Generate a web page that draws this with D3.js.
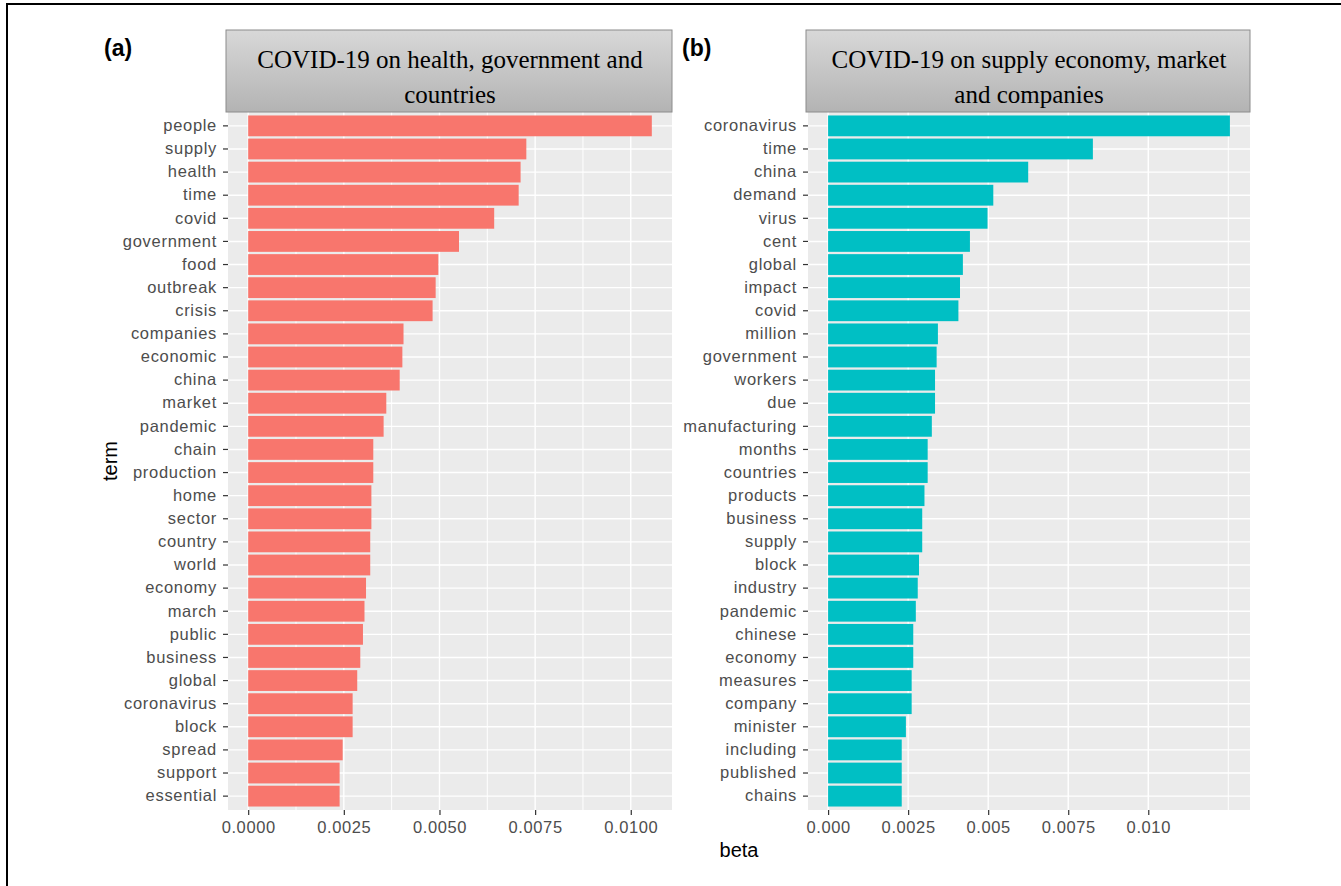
<!DOCTYPE html>
<html>
<head>
<meta charset="utf-8">
<script src="https://cdn.jsdelivr.net/npm/d3@7"></script>
<style>
    body { margin: 0; background: #fff; }
    svg text { font-family: "Liberation Sans", Arial, sans-serif; }
</style>
</head>
<body>
<div id="chart"></div>
<script>
// topic (a) terms and beta values, top to bottom
const termsA = ["people", "supply", "health", "time", "covid", "government", "food", "outbreak", "crisis",
    "companies", "economic", "china", "market", "pandemic", "chain", "production", "home", "sector",
    "country", "world", "economy", "march", "public", "business", "global", "coronavirus", "block",
    "spread", "support", "essential"];
const betaA = [0.01055, 0.00727, 0.00712, 0.00707, 0.00643, 0.00551, 0.00497, 0.00490, 0.00482,
    0.00406, 0.00403, 0.00396, 0.00361, 0.00354, 0.00327, 0.00327, 0.00322, 0.00322,
    0.00319, 0.00319, 0.00308, 0.00304, 0.00300, 0.00293, 0.00285, 0.00273, 0.00273,
    0.00247, 0.00239, 0.00239];

// topic (b)
const termsB = ["coronavirus", "time", "china", "demand", "virus", "cent", "global", "impact", "covid",
    "million", "government", "workers", "due", "manufacturing", "months", "countries", "products",
    "business", "supply", "block", "industry", "pandemic", "chinese", "economy", "measures",
    "company", "minister", "including", "published", "chains"];
const betaB = [0.01255, 0.00827, 0.00625, 0.00516, 0.00498, 0.00443, 0.00421, 0.00412, 0.00407,
    0.00343, 0.00339, 0.00334, 0.00334, 0.00324, 0.00311, 0.00311, 0.00301,
    0.00294, 0.00294, 0.00284, 0.00280, 0.00274, 0.00266, 0.00266, 0.00261,
    0.00261, 0.00243, 0.00230, 0.00230, 0.00230];

const ticksA = [0, 0.0025, 0.005, 0.0075, 0.01];
const tickLabelsA = ["0.0000", "0.0025", "0.0050", "0.0075", "0.0100"];
const minorA = [0.00125, 0.00375, 0.00625, 0.00875];

const ticksB = [0, 0.0025, 0.005, 0.0075, 0.01];
const tickLabelsB = ["0.000", "0.0025", "0.005", "0.0075", "0.010"];
const minorB = [0.0125];

const titleA = ["COVID-19 on health, government and", "countries"];
const titleB = ["COVID-19 on supply economy, market", "and companies"];

const width = 1341, height = 886;
const panelTop = 112, panelBottom = 810;

const svg = d3.select("#chart")
    .append("svg")
    .attr("width", width)
    .attr("height", height);

svg.append("rect").attr("width", width).attr("height", height).attr("fill", "#fff");
svg.append("defs");

// frame of the cropped figure (left and top edge only)
svg.append("path")
    .attr("d", `M7,${height + 2} L7,4 L${width + 2},4`)
    .attr("fill", "none")
    .attr("stroke", "#000")
    .attr("stroke-width", 2);

function drawPanel(opts) {
    const { left, right, terms, values, ticks, tickLabels, minor, color, title, tag, tagX, id } = opts;

    const maxVal = d3.max(values);
    const x = d3.scaleLinear()
        .domain([-0.05 * maxVal, 1.05 * maxVal])
        .range([left, right]);

    const y = d3.scaleBand()
        .domain(terms)
        .range([panelTop, panelBottom])
        .paddingInner(0.1)
        .paddingOuter(0.15);

    const g = svg.append("g").attr("class", "panel");

    g.append("rect")
        .attr("x", left)
        .attr("y", panelTop)
        .attr("width", right - left)
        .attr("height", panelBottom - panelTop)
        .attr("fill", "#ebebeb");

    // grid
    g.selectAll(".minor")
        .data(minor)
        .enter().append("line")
        .attr("x1", d => x(d)).attr("x2", d => x(d))
        .attr("y1", panelTop).attr("y2", panelBottom)
        .attr("stroke", "#fff").attr("stroke-width", 1);

    g.selectAll(".vgrid")
        .data(ticks)
        .enter().append("line")
        .attr("x1", d => x(d)).attr("x2", d => x(d))
        .attr("y1", panelTop).attr("y2", panelBottom)
        .attr("stroke", "#fff").attr("stroke-width", 1.4);

    g.selectAll(".hgrid")
        .data(terms)
        .enter().append("line")
        .attr("x1", left).attr("x2", right)
        .attr("y1", d => y(d) + y.bandwidth() / 2)
        .attr("y2", d => y(d) + y.bandwidth() / 2)
        .attr("stroke", "#fff").attr("stroke-width", 1.4);

    // bars
    g.selectAll(".bar")
        .data(terms.map((t, i) => ({ term: t, value: values[i] })))
        .enter().append("rect")
        .attr("x", x(0))
        .attr("y", d => y(d.term))
        .attr("width", d => x(d.value) - x(0))
        .attr("height", y.bandwidth())
        .attr("fill", color);

    // axes
    const yAxis = g.append("g")
        .attr("transform", `translate(${left},0)`)
        .call(d3.axisLeft(y).tickSize(5).tickPadding(6));
    yAxis.select(".domain").remove();
    yAxis.selectAll("line").attr("stroke", "#333").attr("stroke-width", 1.2);
    yAxis.selectAll("text")
        .attr("fill", "#4d4d4d")
        .style("font-size", "16.5px")
        .style("letter-spacing", "0.7px");

    const xAxis = g.append("g")
        .attr("transform", `translate(0,${panelBottom})`)
        .call(d3.axisBottom(x).tickValues(ticks).tickFormat((d, i) => tickLabels[i]).tickSize(5).tickPadding(6));
    xAxis.select(".domain").remove();
    xAxis.selectAll("line").attr("stroke", "#333").attr("stroke-width", 1.2);
    xAxis.selectAll("text")
        .attr("fill", "#4d4d4d")
        .style("font-size", "16.5px")
        .style("letter-spacing", "0.6px");

    // strip header
    const grad = svg.select("defs").append("linearGradient")
        .attr("id", `strip-${id}`)
        .attr("x1", "0%").attr("y1", "0%")
        .attr("x2", "0%").attr("y2", "100%");
    grad.append("stop").attr("offset", "0%").attr("stop-color", "#d8d8d8");
    grad.append("stop").attr("offset", "100%").attr("stop-color", "#b3b3b3");

    const strip = g.append("g");
    strip.append("rect")
        .attr("x", left - 2)
        .attr("y", 30)
        .attr("width", right - left + 2)
        .attr("height", panelTop - 30)
        .attr("fill", `url(#strip-${id})`)
        .attr("stroke", "#8c8c8c")
        .attr("stroke-width", 1);

    strip.selectAll("text")
        .data(title)
        .enter().append("text")
        .attr("x", (left + right) / 2)
        .attr("y", (d, i) => 68 + i * 35)
        .attr("text-anchor", "middle")
        .style("font-family", "'Liberation Serif', 'Times New Roman', serif")
        .style("font-size", "25px")
        .attr("fill", "#000")
        .text(d => d);

    svg.append("text")
        .attr("x", tagX)
        .attr("y", 56)
        .style("font-size", "23px")
        .style("font-weight", "bold")
        .attr("fill", "#000")
        .text(tag);
}

drawPanel({
    id: "a", left: 228, right: 672, terms: termsA, values: betaA,
    ticks: ticksA, tickLabels: tickLabelsA, minor: minorA,
    color: "#F8766D", title: titleA, tag: "(a)", tagX: 104
});

drawPanel({
    id: "b", left: 808, right: 1250, terms: termsB, values: betaB,
    ticks: ticksB, tickLabels: tickLabelsB, minor: minorB,
    color: "#00BFC4", title: titleB, tag: "(b)", tagX: 682
});

// axis titles
svg.append("text")
    .attr("x", 739)
    .attr("y", 857)
    .attr("text-anchor", "middle")
    .style("font-size", "20px")
    .attr("fill", "#000")
    .text("beta");

svg.append("text")
    .attr("transform", `translate(117,${(panelTop + panelBottom) / 2}) rotate(-90)`)
    .attr("text-anchor", "middle")
    .style("font-size", "20px")
    .attr("fill", "#000")
    .text("term");
</script>
</body>
</html>
